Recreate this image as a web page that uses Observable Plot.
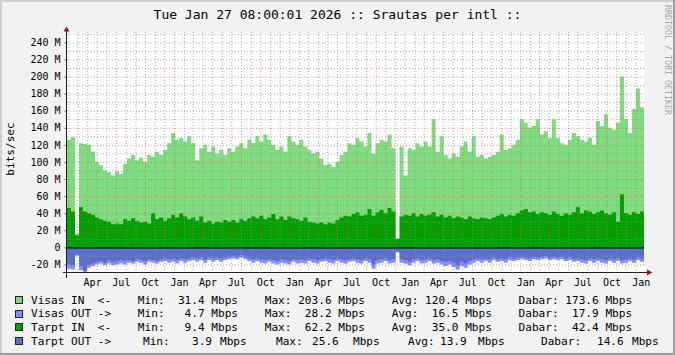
<!DOCTYPE html>
<html>
<head>
<meta charset="utf-8">
<script src="https://cdn.jsdelivr.net/npm/d3@7"></script>
<script src="https://cdn.jsdelivr.net/npm/@observablehq/plot@0.6"></script>
<style>
html,body{margin:0;padding:0;background:#f2f2f2;}
#wrap{position:relative;width:675px;height:355px;background:#f2f2f2;overflow:hidden;font-family:"DejaVu Sans Mono",monospace;color:#000;}
#wrap svg{position:absolute;left:0;top:0;}
.abs{position:absolute;white-space:pre;}
#title{left:0;top:7px;width:675px;text-align:center;font-size:13px;line-height:15px;}
#ylab{left:10.5px;top:149px;font-size:11.1px;line-height:12px;transform:translate(-50%,-50%) rotate(-90deg);}
#mark{left:662px;top:5px;width:11px;font-size:8.3px;line-height:11px;writing-mode:vertical-rl;color:#a6a6a6;}
.leg{font-size:11.1px;line-height:13px;}
.box{position:absolute;width:8px;height:8px;box-sizing:border-box;border:1px solid #222;}
.bd{position:absolute;}
</style>
</head>
<body>
<div id="wrap"></div>
<script>
// ---- data (Mbit/s), one value per ~12.7 days, 2021-01-27 .. 2026-01-27 ----
const visasIn = [126,129,16,122,121,120,112,100,96,90,
  88,84,89,86,98,104,108,102,105,100,
  108,106,112,108,114,122,134,126,128,124,
  130,122,102,116,120,112,118,110,114,108,
  116,112,118,122,116,126,122,130,124,132,
  126,120,114,118,112,130,124,120,126,118,
  114,110,112,104,96,98,94,100,108,112,
  122,120,128,124,118,134,110,122,126,124,
  132,116,10,118,84,116,114,122,118,124,
  118,150,112,130,108,104,110,106,118,124,
  112,130,106,108,104,106,108,112,132,114,
  116,120,126,150,146,140,142,150,132,136,
  128,150,128,122,120,126,134,130,126,124,
  128,120,148,142,156,140,138,146,200,150,
  134,162,186,164];
const tarptIn = [46,42,14,47,42,40,38,35,33,31,
  30,27,28,27,33,31,34,31,29,30,
  28,40,33,35,31,34,38,35,40,36,
  33,35,31,36,29,31,28,30,29,32,
  30,32,29,33,31,34,36,34,37,33,
  35,39,33,36,32,36,34,33,31,35,
  30,29,28,29,27,29,28,32,35,37,
  36,39,41,37,38,45,37,41,44,40,
  46,42,10,36,38,37,40,36,39,37,
  38,41,36,38,35,37,34,36,35,33,
  36,34,33,35,34,33,35,37,39,36,
  38,37,40,43,45,41,42,39,41,40,
  38,42,39,37,40,38,41,47,40,43,
  42,39,41,43,40,38,41,30,62,40,
  38,41,39,42];
const visasOut = [25,26,10,27,29,24,22,20,19,21,
  19,21,20,19,20,18,19,17,18,20,
  17,18,19,17,16,18,17,19,16,18,
  16,15,17,15,18,15,17,15,17,15,
  14,13,14,12,14,16,18,16,18,19,
  17,19,20,18,19,20,17,19,18,19,
  16,18,19,17,16,18,19,16,18,19,
  17,16,18,19,16,18,25,19,18,16,
  19,18,6,18,19,21,18,16,19,18,
  16,19,18,20,22,20,23,26,22,24,
  20,18,16,18,16,18,15,17,16,18,
  15,16,15,14,15,16,14,15,14,13,
  15,14,15,14,16,15,17,16,18,19,
  16,18,16,18,19,16,18,16,19,18,
  16,18,15,17];
const tarptOut = [20,21,8,22,27,20,19,17,16,18,
  15,17,16,15,16,15,16,14,15,16,
  14,15,16,14,13,14,13,15,13,14,
  13,12,13,12,14,12,13,12,13,12,
  11,10,11,9,11,13,14,13,14,15,
  14,15,16,14,15,16,14,15,14,15,
  13,14,15,14,13,14,15,13,14,15,
  14,13,14,15,13,14,20,15,14,13,
  15,14,5,14,15,17,14,13,15,14,
  13,15,14,16,17,16,18,21,17,19,
  16,14,13,14,13,14,12,14,13,14,
  12,13,12,11,12,13,11,12,11,10,
  12,11,12,11,13,12,14,13,14,15,
  13,14,13,14,15,13,14,13,15,14,
  13,14,12,13];
const yTicks = [-20,0,20,40,60,80,100,120,140,160,180,200,220,240];
const seriesNames = ["Visas IN  <-","Visas OUT ->","Tarpt IN  <-","Tarpt OUT ->"];
const seriesColors = ["#7fdc7f","#8090ff","#00a000","#5a6ecb"];
const statMin = [31.4,4.7,9.4,3.9];
const statMax = [203.6,28.2,62.2,25.6];
const statAvg = [120.4,16.5,35.0,13.9];
const statCur = [173.6,17.9,42.4,14.6];
const titleText = "Tue Jan 27 08:00:01 2026 :: Srautas per intl ::";

// ---- build ----
const start = new Date("2021-01-27T08:00:00Z");
const end = new Date("2026-01-27T08:00:00Z");
const n = visasIn.length;
const rows = d3.range(n + 1).map(i => {
  const k = Math.min(i, n - 1);
  return {date: new Date(+start + (end - start) * i / n),
          vIn: visasIn[k], tIn: tarptIn[k], vOut: visasOut[k], tOut: tarptOut[k]};
});
const months = d3.utcMonth.range(start, end);
const quarters = months.filter(d => d.getUTCMonth() % 3 === 0);
const minorMonths = months.filter(d => d.getUTCMonth() % 3 !== 0);
const yMinor = d3.range(-10, 251, 20);
const gridC = "rgb(143,143,143)", mgridC = "rgb(222,79,79)";

const plot = Plot.plot({
  width: 675, height: 290,
  marginLeft: 67, marginRight: 31, marginTop: 32, marginBottom: 17,
  style: {background: "transparent", fontFamily: "'DejaVu Sans Mono', monospace", fontSize: "10px", color: "#000", overflow: "visible"},
  x: {type: "utc", domain: [start, end], axis: null},
  y: {domain: [-30.1, 252.2], axis: null},
  marks: [
    Plot.frame({fill: "#ffffff", stroke: "none"}),
    Plot.areaY(rows, {x: "date", y: "vIn", curve: "step-after", fill: seriesColors[0]}),
    Plot.areaY(rows, {x: "date", y: "tIn", curve: "step-after", fill: seriesColors[2]}),
    Plot.areaY(rows, {x: "date", y: d => -d.vOut, curve: "step-after", fill: seriesColors[1]}),
    Plot.areaY(rows, {x: "date", y: d => -d.tOut, curve: "step-after", fill: seriesColors[3]}),
    Plot.ruleY(yMinor, {stroke: gridC, strokeOpacity: 0.75, strokeDasharray: "1,2"}),
    Plot.ruleX(minorMonths, {stroke: gridC, strokeOpacity: 0.75, strokeDasharray: "1,2"}),
    Plot.ruleY(yTicks, {stroke: mgridC, strokeOpacity: 0.6, strokeDasharray: "1,2"}),
    Plot.ruleX(quarters, {stroke: mgridC, strokeOpacity: 0.6, strokeDasharray: "1,2"}),
    Plot.ruleY([0], {stroke: "#000", strokeWidth: 1.2}),
    Plot.axisY({ticks: yTicks, tickFormat: d => d === 0 ? "0" : d + " M", tickSize: 3, tickPadding: 4, stroke: "#8f8f8f", fill: "#000", fontSize: 10}),
    Plot.axisX({ticks: quarters, tickFormat: d3.utcFormat("%b"), tickSize: 0, tickPadding: 5, dx: 5, fill: "#000", fontSize: 10})
  ]
});

// axis lines + arrows computed from the scales
const xs = plot.scale("x"), ys = plot.scale("y");
const [xl, xr] = xs.range; const [yb, yt] = ys.range;
const g = d3.select(plot).append("g");
g.append("line").attr("x1", xl - 0.5).attr("x2", xl - 0.5).attr("y1", yb + 5).attr("y2", yt - 2).attr("stroke", "#1f1f1f");
g.append("line").attr("x1", xl - 4).attr("x2", xr + 3).attr("y1", yb - 0.5).attr("y2", yb - 0.5).attr("stroke", "#1f1f1f");
g.append("path").attr("d", `M${xl - 0.5},${yt - 5.5}L${xl - 3.5},${yt - 0.5}L${xl + 2.5},${yt - 0.5}Z`).attr("fill", "#801f1f");
g.append("path").attr("d", `M${xr + 8.5},${yb - 0.5}L${xr + 3},${yb - 3.5}L${xr + 3},${yb + 2.5}Z`).attr("fill", "#801f1f");

const wrap = document.getElementById("wrap");
wrap.appendChild(plot);

function add(cls, id, text, css) {
  const d = document.createElement("div");
  d.className = cls; if (id) d.id = id; d.textContent = text;
  if (css) Object.assign(d.style, css);
  wrap.appendChild(d); return d;
}
add("abs", "title", titleText);
add("abs", "ylab", "bits/sec");
add("abs", "mark", "RRDTOOL / TOBI OETIKER");

const fmt = v => v.toFixed(1).padStart(5);
const lineY = [300, 313.7, 327.4, 341.1];
seriesNames.forEach((name, i) => {
  const cy = lineY[i];
  const b = document.createElement("div");
  b.className = "box";
  Object.assign(b.style, {left: "15px", top: (cy - 4) + "px", background: seriesColors[i]});
  wrap.appendChild(b);
  if (i < 3) {
    const t = `${name}    Min: ${fmt(statMin[i])} Mbps    Max: ${fmt(statMax[i])} Mbps    Avg: ${fmt(statAvg[i])} Mbps    Dabar: ${fmt(statCur[i])} Mbps`;
    add("abs leg", null, t, {left: "31px", top: (cy - 6.5) + "px"});
  } else {
    // justified last line
    const toks = [name, "Min:", statMin[i].toFixed(1), "Mbps", "Max:", statMax[i].toFixed(1), "Mbps",
                  "Avg:", statAvg[i].toFixed(1), "Mbps", "Dabar:", statCur[i].toFixed(1), "Mbps"];
    const tx = [31, 143, 192, 220, 276, 312, 353, 408, 440, 478, 541, 597, 632];
    toks.forEach((tk, j) => add("abs leg", null, tk, {left: tx[j] + "px", top: (cy - 6.5) + "px"}));
  }
});

// 3D frame
[["0px","0px","675px","2px","#cfcfcf"],["0px","0px","2px","355px","#cfcfcf"],
 ["0px","353px","675px","2px","#9e9e9e"],["673px","0px","2px","355px","#9e9e9e"]].forEach(([l,t,w,h,c]) => {
  const d = document.createElement("div"); d.className = "bd";
  Object.assign(d.style, {left: l, top: t, width: w, height: h, background: c});
  wrap.appendChild(d);
});
</script>
</body>
</html>
